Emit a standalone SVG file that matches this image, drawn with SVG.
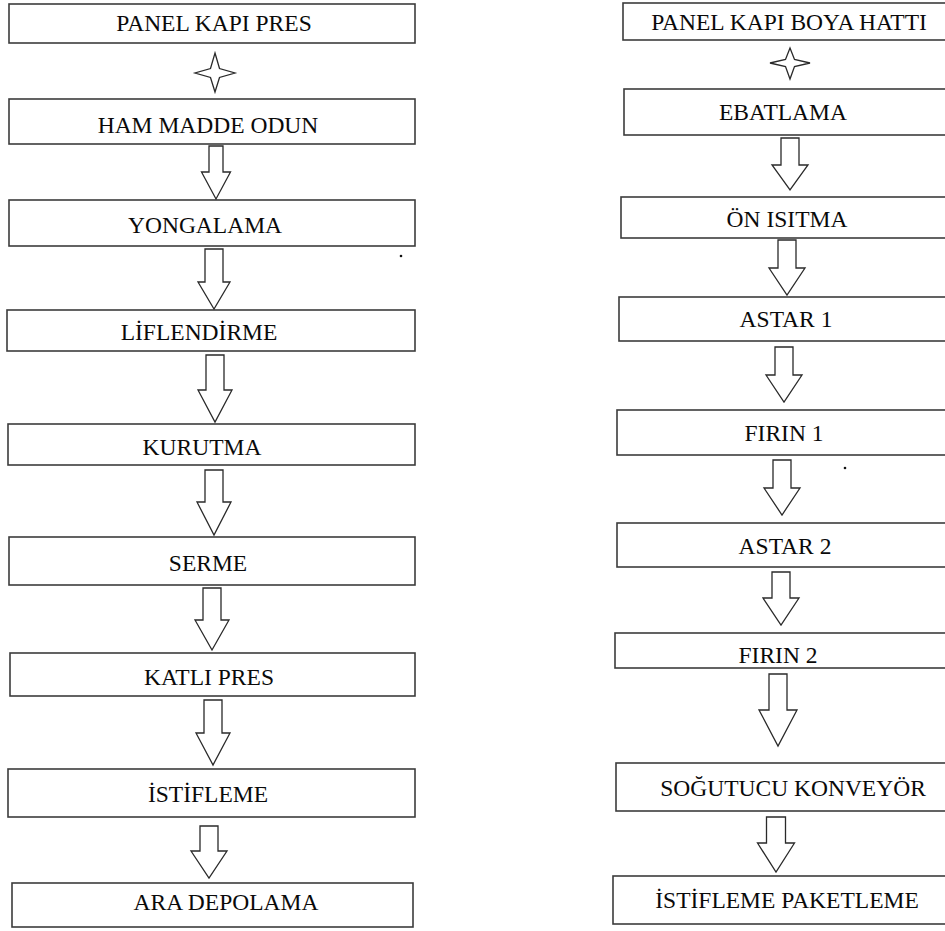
<svg xmlns="http://www.w3.org/2000/svg" width="945" height="931" viewBox="0 0 945 931">
  <style>
    .box { fill: #ffffff; stroke: #3c3c3c; stroke-width: 1.6; }
    .lbl { font-family: "Liberation Serif", "Times New Roman", serif; font-size: 23.5px; fill: #0a0a0a; text-anchor: middle; }
    .arrow { fill: #ffffff; stroke: #2a2a2a; stroke-width: 1.3; stroke-linejoin: miter; }
    .star { fill: #ffffff; stroke: #2a2a2a; stroke-width: 1.3; stroke-linejoin: miter; }
    .dot { fill: #111111; }
  </style>
  <rect x="0" y="0" width="945" height="931" fill="#ffffff"/>

  <!-- Left line: panel door press -->
  <g id="n-panel-kapi-pres"><rect class="box" x="9" y="4" width="406" height="39"/><text class="lbl" x="214" y="31">PANEL KAPI PRES</text></g>
  <g id="n-ham-madde-odun"><rect class="box" x="9" y="99" width="406" height="45"/><text class="lbl" x="208" y="133">HAM MADDE ODUN</text></g>
  <g id="n-yongalama"><rect class="box" x="9" y="200" width="406" height="46"/><text class="lbl" x="205" y="233">YONGALAMA</text></g>
  <g id="n-liflendirme"><rect class="box" x="7" y="310" width="408" height="41"/><text class="lbl" x="199" y="340">LİFLENDİRME</text></g>
  <g id="n-kurutma"><rect class="box" x="8" y="424" width="407" height="41"/><text class="lbl" x="202" y="455">KURUTMA</text></g>
  <g id="n-serme"><rect class="box" x="9" y="537" width="406" height="48"/><text class="lbl" x="208" y="571">SERME</text></g>
  <g id="n-katli-pres"><rect class="box" x="10" y="653" width="405" height="43"/><text class="lbl" x="209" y="685">KATLI PRES</text></g>
  <g id="n-istifleme"><rect class="box" x="8" y="769" width="407" height="48"/><text class="lbl" x="208" y="802">İSTİFLEME</text></g>
  <g id="n-ara-depolama"><rect class="box" x="12" y="883" width="401" height="44"/><text class="lbl" x="226" y="910">ARA DEPOLAMA</text></g>

  <!-- Right line: panel door paint line (boxes run past the right edge) -->
  <g id="n-panel-kapi-boya-hatti"><rect class="box" x="623" y="3" width="330" height="37"/><text class="lbl" x="789" y="30">PANEL KAPI BOYA HATTI</text></g>
  <g id="n-ebatlama"><rect class="box" x="624" y="89" width="330" height="46"/><text class="lbl" x="783" y="120">EBATLAMA</text></g>
  <g id="n-on-isitma"><rect class="box" x="621" y="197" width="330" height="41"/><text class="lbl" x="787" y="227">ÖN ISITMA</text></g>
  <g id="n-astar-1"><rect class="box" x="619" y="297" width="330" height="44"/><text class="lbl" x="786" y="327">ASTAR 1</text></g>
  <g id="n-firin-1"><rect class="box" x="617" y="410" width="330" height="45"/><text class="lbl" x="784" y="441">FIRIN 1</text></g>
  <g id="n-astar-2"><rect class="box" x="617" y="523" width="330" height="44"/><text class="lbl" x="785" y="554">ASTAR 2</text></g>
  <g id="n-firin-2"><rect class="box" x="615" y="633" width="335" height="35"/><text class="lbl" x="778" y="663">FIRIN 2</text></g>
  <g id="n-sogutucu-konveyor"><rect class="box" x="616" y="763" width="335" height="48"/><text class="lbl" x="793" y="796">SOĞUTUCU KONVEYÖR</text></g>
  <g id="n-istifleme-paketleme"><rect class="box" x="613" y="876" width="340" height="48"/><text class="lbl" x="787" y="908">İSTİFLEME PAKETLEME</text></g>

  <!-- Connectors: four-point stars under the titles, block arrows between steps -->
  <g id="connectors">
    <path class="star" d="M215,53 L219.5,68.5 L235,73 L219.5,77.5 L215,92 L210.5,77.5 L195,73 L210.5,68.5 Z"/>
    <path class="star" d="M790,48 L794.5,59.5 L810,63 L794.5,66.5 L790,79 L785.5,66.5 L770,63 L785.5,59.5 Z"/>

    <path class="arrow" d="M209,146 H223 V172 H230.5 L216,199 L201.5,172 H209 Z"/>
    <path class="arrow" d="M205,249 H223 V282 H230 L214,309 L198,282 H205 Z"/>
    <path class="arrow" d="M206,355 H224 V390 H232 L215,422 L198,390 H206 Z"/>
    <path class="arrow" d="M205,470 H223 V502 H231 L214,535 L197,502 H205 Z"/>
    <path class="arrow" d="M203,588 H221 V620 H229 L212,650 L195,620 H203 Z"/>
    <path class="arrow" d="M204,700 H222 V733 H230 L213,765 L196,733 H204 Z"/>
    <path class="arrow" d="M200,826 H218 V851 H227 L209,878 L191,851 H200 Z"/>

    <path class="arrow" d="M781,138 H799 V165 H808 L790,190 L772,165 H781 Z"/>
    <path class="arrow" d="M778,240 H796 V268 H805 L787,295 L769,268 H778 Z"/>
    <path class="arrow" d="M775,347 H793 V375 H802 L784,402 L766,375 H775 Z"/>
    <path class="arrow" d="M773,460 H791 V488 H800 L782,515 L764,488 H773 Z"/>
    <path class="arrow" d="M772,572 H790 V598 H799 L781,625 L763,598 H772 Z"/>
    <path class="arrow" d="M769,674 H787 V710 H797 L778,746 L759,710 H769 Z"/>
    <path class="arrow" d="M766.5,817 H785.5 V843 H794.5 L776,872 L757.5,843 H766.5 Z"/>
  </g>

  <!-- stray marks -->
  <circle class="dot" cx="401" cy="256" r="1.3"/>
  <circle class="dot" cx="845" cy="468" r="1.3"/>
</svg>
